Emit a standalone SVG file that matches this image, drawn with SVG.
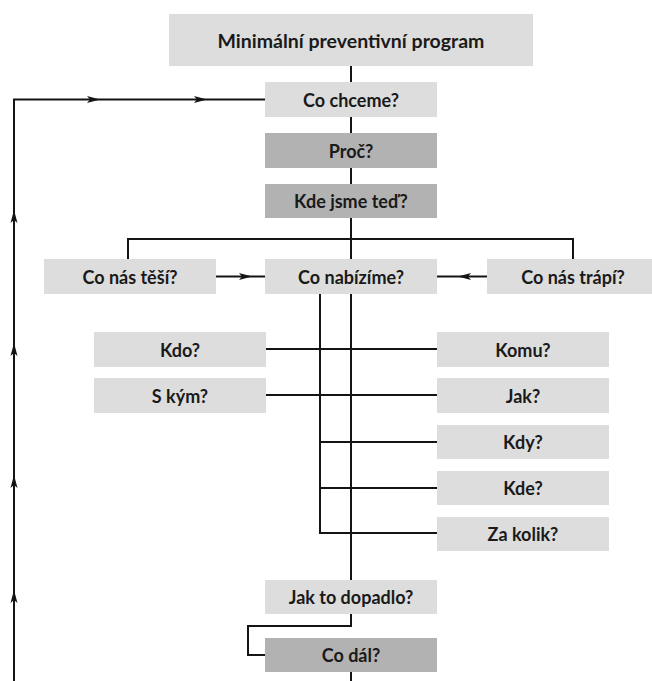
<svg xmlns="http://www.w3.org/2000/svg" xmlns:xlink="http://www.w3.org/1999/xlink" width="652" height="681" viewBox="0 0 652 681">
  <style>
    .light { fill: #dddddd; }
    .dark { fill: #b2b2b2; }
    .lbl { font-family: Lato, "Open Sans", "Liberation Sans", sans-serif; font-weight: bold; font-size: 18px; fill: #1a1a1a; text-anchor: middle; dominant-baseline: central; }
    .big { font-size: 19.5px; }
    .ln { fill: none; stroke: #141414; stroke-width: 2; }
  </style>
  <defs>
    <path id="ah" d="M0,0 L-13,-3.5 L-10,0 L-13,3.5 Z" fill="#141414"/>
  </defs>
  <rect width="652" height="681" fill="#ffffff"/>

  <g id="connectors">
    <path class="ln" d="M351,66 V82 M351,117 V133 M351,168 V184 M351,218 V259"/>
    <path class="ln" d="M128,259 V239 H573 V259"/>
    <path class="ln" d="M216,276.5 H265 M487,276.5 H437"/>
    <path class="ln" d="M351,294 V580 M320,294 V533 H437"/>
    <path class="ln" d="M266,349 H437 M266,395 H437 M320,442 H437 M320,488 H437"/>
    <path class="ln" d="M351,614 V626 H248 V655 H265 M351,672 V681"/>
    <path class="ln" d="M14,681 V99.5 H265"/>
    <use xlink:href="#ah" transform="translate(100,99.5)"/>
    <use xlink:href="#ah" transform="translate(207,99.5)"/>
    <use xlink:href="#ah" transform="translate(252,276.5)"/>
    <use xlink:href="#ah" transform="translate(458,276.5) rotate(180)"/>
    <use xlink:href="#ah" transform="translate(14,210) rotate(-90)"/>
    <use xlink:href="#ah" transform="translate(14,343) rotate(-90)"/>
    <use xlink:href="#ah" transform="translate(14,475) rotate(-90)"/>
    <use xlink:href="#ah" transform="translate(14,590) rotate(-90)"/>
  </g>

  <g id="n-title"><rect class="light" x="169" y="14" width="364" height="52"/><text class="lbl big" x="351" y="40">Minimální preventivní program</text></g>
  <g id="n-cochceme"><rect class="light" x="265" y="82" width="172" height="35"/><text class="lbl" x="351" y="99.5">Co chceme?</text></g>
  <g id="n-proc"><rect class="dark" x="265" y="133" width="172" height="35"/><text class="lbl" x="351" y="150.5">Proč?</text></g>
  <g id="n-kdejsme"><rect class="dark" x="265" y="184" width="172" height="34"/><text class="lbl" x="351" y="201">Kde jsme teď?</text></g>
  <g id="n-tesi"><rect class="light" x="44" y="259" width="172" height="35"/><text class="lbl" x="130" y="276.5">Co nás těší?</text></g>
  <g id="n-nabizime"><rect class="light" x="265" y="259" width="172" height="35"/><text class="lbl" x="351" y="276.5">Co nabízíme?</text></g>
  <g id="n-trapi"><rect class="light" x="487" y="259" width="172" height="35"/><text class="lbl" x="573" y="276.5">Co nás trápí?</text></g>
  <g id="n-kdo"><rect class="light" x="94" y="332" width="172" height="35"/><text class="lbl" x="180" y="349.5">Kdo?</text></g>
  <g id="n-skym"><rect class="light" x="94" y="378" width="172" height="35"/><text class="lbl" x="180" y="395.5">S kým?</text></g>
  <g id="n-komu"><rect class="light" x="437" y="332" width="172" height="35"/><text class="lbl" x="523" y="349.5">Komu?</text></g>
  <g id="n-jak"><rect class="light" x="437" y="378" width="172" height="35"/><text class="lbl" x="523" y="395.5">Jak?</text></g>
  <g id="n-kdy"><rect class="light" x="437" y="425" width="172" height="34"/><text class="lbl" x="523" y="442">Kdy?</text></g>
  <g id="n-kde"><rect class="light" x="437" y="471" width="172" height="34"/><text class="lbl" x="523" y="488">Kde?</text></g>
  <g id="n-zakolik"><rect class="light" x="437" y="517" width="172" height="34"/><text class="lbl" x="523" y="534">Za kolik?</text></g>
  <g id="n-dopadlo"><rect class="light" x="265" y="580" width="172" height="34"/><text class="lbl" x="351" y="597">Jak to dopadlo?</text></g>
  <g id="n-codal"><rect class="dark" x="265" y="638" width="172" height="34"/><text class="lbl" x="351" y="655">Co dál?</text></g>
</svg>
